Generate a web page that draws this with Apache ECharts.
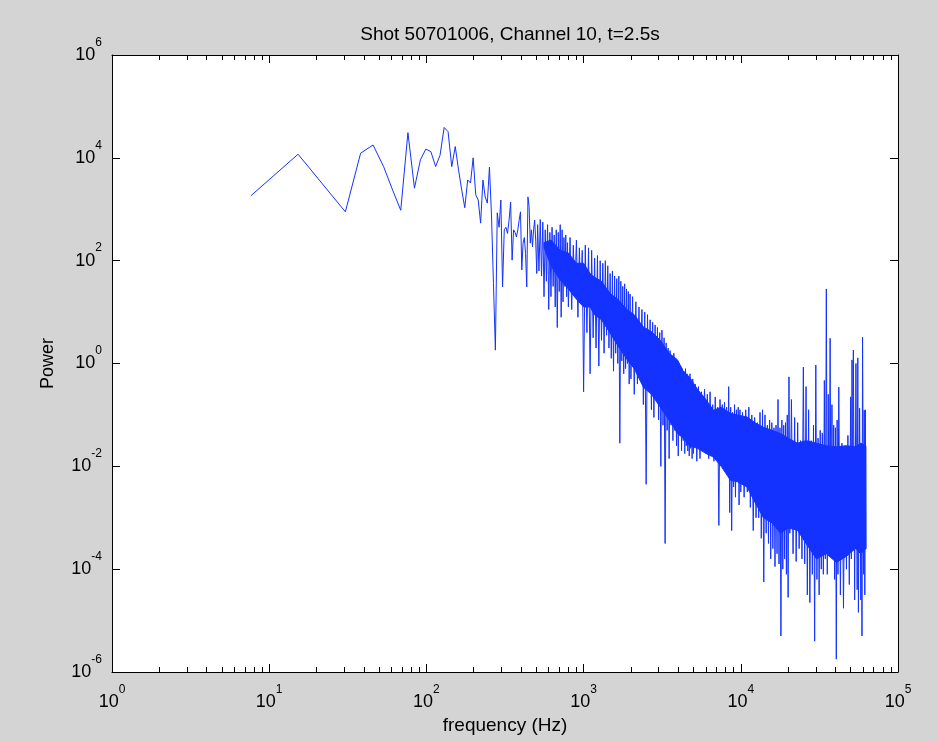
<!DOCTYPE html>
<html>
<head>
<meta charset="utf-8">
<script src="https://cdn.jsdelivr.net/npm/echarts@6/dist/echarts.min.js"></script>
<style>
  html, body { margin: 0; padding: 0; background: #d4d4d4; }
  #chart { width: 938px; height: 742px; }
</style>
</head>
<body>
<div id="chart"></div>
<script>
// ---- Data (frequency in Hz, power given as log10 exponent) ----
const titleText = 'Shot 50701006, Channel 10, t=2.5s';
const xAxisName = 'frequency (Hz)';
const yAxisName = 'Power';
const xTickExponents = [0, 1, 2, 3, 4, 5];
const yTickExponents = [-6, -4, -2, 0, 2, 4, 6];

// individual FFT bins in the low-frequency part
const binFreqHz = [7.63, 15.26, 30.52, 38.15, 45.78, 53.41, 61.04, 68.67, 76.3, 83.93,
  91.56, 99.19, 106.82, 114.45, 122.08, 129.71, 137.34, 144.97, 152.6, 160.23,
  167.86, 175.49, 183.12, 190.75, 198.38, 206.01, 213.64, 221.27, 228.9, 236.53,
  244.16, 251.79, 259.42, 267.05, 274.68, 282.31, 289.94, 297.57, 305.2, 312.83,
  320.46, 328.09, 335.72, 343.35, 350.98, 358.61, 366.24, 373.87, 381.5, 389.13,
  396.76, 404.39, 412.02, 419.65, 427.28, 434.91, 442.54, 450.17, 457.8, 465.43,
  473.06, 480.69, 488.32, 495.95, 503.58];
const binPowerLog10 = [3.26, 4.07, 2.95, 4.09, 4.25, 3.83, 3.37, 2.98, 4.49, 3.41,
  3.96, 4.17, 4.12, 3.83, 4.05, 4.59, 4.51, 3.83, 4.22, 3.76,
  3.37, 3.03, 3.57, 3.51, 4.0, 3.28, 3.18, 2.73, 3.57, 3.24,
  3.12, 3.82, 2.89, 1.56, 0.26, 2.93, 2.65, 3.18, 1.49, 2.6,
  2.65, 2.53, 2.79, 3.14, 2.01, 2.6, 2.55, 2.46, 2.6, 2.79,
  2.95, 1.82, 2.34, 2.45, 2.14, 1.49, 3.24, 3.05, 2.34, 2.6,
  2.27, 2.6, 2.79, 2.38, 1.75];

// dense noisy band: alternating upper / lower excursions
const bandFreqHz = [
  510, 520, 530, 540, 550, 560, 570, 580, 590, 600,
  610, 620, 630, 640, 650, 660, 670, 680, 690, 700,
  710, 720, 730, 740, 750, 760, 770, 780, 790, 800,
  820, 840, 860, 880, 900, 920, 940, 960, 980, 1000,
  1025, 1050, 1075, 1100, 1125, 1150, 1175, 1200, 1225, 1250,
  1275, 1300, 1325, 1350, 1375, 1400, 1425, 1450, 1475, 1500,
  1525, 1550, 1575, 1600, 1625, 1650, 1675, 1700, 1725, 1750,
  1775, 1800, 1825, 1850, 1875, 1900, 1925, 1950, 1975, 2000,
  2050, 2100, 2150, 2200, 2250, 2300, 2350, 2400, 2450, 2500,
  2550, 2600, 2650, 2700, 2750, 2800, 2850, 2900, 2950, 3000,
  3050, 3100, 3150, 3200, 3250, 3300, 3350, 3400, 3450, 3500,
  3550, 3600, 3650, 3700, 3750, 3800, 3850, 3900, 3950, 4000,
  4050, 4100, 4150, 4200, 4250, 4300, 4350, 4400, 4450, 4500,
  4550, 4600, 4650, 4700, 4750, 4800, 4850, 4900, 4950, 5000,
  5125, 5250, 5375, 5500, 5625, 5750, 5875, 6000, 6125, 6250,
  6375, 6500, 6625, 6750, 6875, 7000, 7125, 7250, 7375, 7500,
  7625, 7750, 7875, 8000, 8125, 8250, 8375, 8500, 8625, 8750,
  8875, 9000, 9125, 9250, 9375, 9500, 9625, 9750, 9875, 10000,
  10250, 10500, 10750, 11000, 11250, 11500, 11750, 12000, 12250, 12500,
  12750, 13000, 13250, 13500, 13750, 14000, 14250, 14500, 14750, 15000,
  15250, 15500, 15750, 16000, 16250, 16500, 16750, 17000, 17250, 17500,
  17750, 18000, 18250, 18500, 18750, 19000, 19250, 19500, 19750, 20000,
  20250, 20500, 21000, 21500, 22000, 22500, 23000, 23500, 24000, 24500,
  25000, 25500, 26000, 26500, 27000, 27500, 28000, 28500, 29000, 29500,
  30000, 30500, 31000, 31500, 32000, 32500, 33000, 33500, 34000, 34500,
  35000, 35500, 36000, 36500, 37000, 37500, 38000, 38500, 39000, 39500,
  40000, 40500, 41000, 41500, 42000, 43000, 44000, 45000, 46000, 47000,
  48000, 49000, 50000, 50500, 51000, 51500, 52000, 53000, 54000, 55000,
  55500, 56000, 57000, 58000, 58500, 59000, 59500, 60500, 61000, 61500,
  62000, 62500];
const bandPowerLog10 = [
  2.7, 1.8, 2.8, 1.7, 2.75, 1.3, 2.6, 1.6, 2.7, 1.05,
  2.55, 1.3, 2.65, 1.5, 2.5, 1.1, 2.6, 0.7, 2.55, 1.4,
  2.7, 0.9, 2.6, 1.2, 2.45, 1.5, 2.5, 1.3, 2.35, 1.1,
  2.45, 1.05, 2.3, 1.4, 2.4, 0.9, 2.25, 1.2, 2.2, -0.55,
  2.3, 0.6, 2.25, -0.2, 2.2, 0.5, 2.05, 0.3, 2.1, -0.05,
  2.0, 0.45, 1.95, 0.2, 2.0, 0.55, 1.9, 0.3, 1.75, 0.1,
  1.8, -0.15, 1.7, 0.2, 1.65, 0.0, 1.7, -1.55, 1.6, 0.05,
  1.5, -0.2, 1.55, -0.1, 1.45, 0.0, 1.4, -0.4, 1.35, -0.3,
  1.3, -0.6, 1.2, -0.4, 1.1, -0.2, 1.05, -0.8, 1.0, -2.35,
  0.95, -0.5, 0.85, -0.9, 0.8, -1.05, 0.75, -0.7, 0.7, -1.1,
  0.6, -2.0, 0.65, -1.2, 0.5, -3.5, 0.4, -1.3, 0.3, -1.85,
  0.25, -1.2, 0.15, -1.5, 0.2, -1.3, 0.1, -1.6, 0.05, -1.8,
  0.0, -1.4, -0.05, -1.7, -0.1, -1.5, -0.15, -1.75, -0.1, -1.6,
  -0.2, -1.7, -0.25, -1.8, -0.2, -1.65, -0.35, -1.85, -0.3, -1.75,
  -0.4, -1.9, -0.45, -1.85, -0.55, -1.6, -0.5, -1.4, -0.6, -1.85,
  -0.55, -1.75, -0.8, -1.9, -0.65, -1.8, -0.85, -3.15, -0.7, -1.7,
  -0.8, -1.9, -0.75, -1.65, -0.85, -2.1, -0.45, -2.9, -0.85, -3.25,
  -0.95, -2.4, -0.8, -2.6, -0.9, -2.2, -0.85, -2.75, -0.9, -2.5,
  -0.95, -2.6, -0.9, -2.5, -0.85, -2.8, -1.0, -3.25, -1.05, -3.0,
  -1.15, -3.0, -0.95, -3.4, -0.9, -4.25, -1.0, -3.3, -1.2, -3.5,
  -1.1, -3.8, -1.15, -3.6, -1.25, -3.95, -1.2, -3.7, -0.7, -3.9,
  -1.25, -5.3, -1.1, -4.0, -1.2, -3.8, -1.15, -4.1, -1.0, -4.55,
  -0.26, -3.3, -0.7, -3.7, -1.05, -3.85, -1.15, -3.6, -1.5, -3.8,
  -0.07, -3.9, -0.45, -4.5, -0.9, -4.65, -1.5, -4.1, -1.2, -5.4,
  -0.03, -4.2, -1.45, -4.5, -1.3, -4.0, -1.35, -4.1, -0.33, -3.8,
  1.45, -4.1, -0.6, -3.6, 0.49, -3.7, -0.8, -3.75, -1.2, -4.2,
  -1.25, -5.75, -1.1, -4.1, -0.46, -4.5, -1.55, -4.76, -1.6, -4.0,
  -1.4, -4.3, -0.65, -3.8, 0.07, -3.14, 0.26, -4.6, 0.0, -4.4,
  0.11, -4.84, -0.87, -4.6, -1.55, -5.3, 0.51, -4.1, -0.91, -4.5,
  -0.9, -3.6];

// solid (fully inked) core of the noisy band: upper and lower edge
const coreFreqHz = [560, 620, 711, 800, 900, 1000, 1100, 1170, 1300, 1475,
  1650, 1900, 2100, 2400, 2700, 3078, 3500, 3960, 4300, 4700,
  5300, 6000, 6700, 7500, 8590, 9500, 10950, 12300, 13930, 15800,
  17870, 20000, 22900, 26000, 30300, 35000, 40600, 47000, 53600, 58000,
  62500];
const coreUpperLog10 = [2.35, 2.4, 2.2, 2.15, 1.95, 1.95, 1.75, 1.68, 1.6, 1.36,
  1.25, 1.04, 0.95, 0.71, 0.62, 0.45, 0.2, 0.07, -0.15, -0.26,
  -0.5, -0.7, -0.91, -0.85, -0.97, -1.0, -1.04, -1.15, -1.24, -1.3,
  -1.36, -1.45, -1.55, -1.5, -1.55, -1.6, -1.62, -1.6, -1.62, -1.55,
  -1.6];
const coreLowerLog10 = [2.25, 1.9, 1.62, 1.45, 1.25, 1.1, 1.1, 0.95, 0.85, 0.59,
  0.35, 0.07, -0.1, -0.46, -0.6, -0.85, -1.1, -1.36, -1.45, -1.6,
  -1.65, -1.75, -1.82, -2.0, -2.27, -2.3, -2.4, -2.7, -3.0, -3.1,
  -3.3, -3.2, -3.24, -3.5, -3.8, -3.7, -3.87, -3.75, -3.6, -3.7,
  -3.6];

// ---- build series data (power = 10^exponent) ----
const freqHz = binFreqHz.concat(bandFreqHz);
const powerLog10 = binPowerLog10.concat(bandPowerLog10);
const seriesData = freqHz.map((f, i) => [f, Math.pow(10, powerLog10[i])]);
const coreData = coreFreqHz.map((f, i) => [f, Math.pow(10, coreUpperLog10[i]), Math.pow(10, coreLowerLog10[i])]);

// minor tick positions on the frequency axis (log10 space), 2..9 within each decade
const minorMultipliers = [2, 3, 4, 5, 6, 7, 8, 9];
const xMinorTickLog = [];
for (let k = xTickExponents[0]; k < xTickExponents[xTickExponents.length - 1]; k++) {
  minorMultipliers.forEach(m => xMinorTickLog.push(k + Math.log10(m)));
}

const LINE_COLOR = '#1432ff';
const FONT = '"Liberation Sans", Arial, Helvetica, sans-serif';
const BASE = 18, EXP = 12;
const rich = {
  b: { fontSize: BASE, fontFamily: FONT, color: '#000' },
  e: { fontSize: EXP, fontFamily: FONT, color: '#000', padding: [0, 0, 25, 0] }
};
const pow10Label = e => '{b|10}{e|' + e + '}';

const axisLineStyle = { show: true, onZero: false, lineStyle: { color: '#000', width: 1 } };
const GRID = { left: 112, top: 55, width: 786, height: 617 };

const chart = echarts.init(document.getElementById('chart'), null, { renderer: 'canvas' });
chart.setOption({
  backgroundColor: '#d4d4d4',
  animation: false,
  title: {
    text: titleText,
    left: GRID.left + GRID.width / 2,
    top: 20,
    textAlign: 'center',
    textStyle: { fontSize: 19, fontWeight: 'normal', color: '#000', fontFamily: FONT }
  },
  grid: Object.assign({ show: true, backgroundColor: '#ffffff', borderWidth: 0 }, GRID),
  xAxis: [
    { // main log frequency axis (bottom)
      type: 'log', logBase: 10, min: Math.pow(10, xTickExponents[0]), max: Math.pow(10, xTickExponents[xTickExponents.length - 1]),
      splitNumber: 5, position: 'bottom',
      name: xAxisName, nameLocation: 'middle', nameGap: 41,
      nameTextStyle: { fontSize: 19, fontFamily: FONT, color: '#000' },
      axisLine: axisLineStyle,
      axisTick: { show: true, inside: true, length: 8, lineStyle: { color: '#000' } },
      axisLabel: { margin: 12, formatter: v => pow10Label(Math.round(Math.log10(v))), rich: rich },
      splitLine: { show: false }
    },
    { // top box side
      type: 'log', logBase: 10, min: Math.pow(10, xTickExponents[0]), max: Math.pow(10, xTickExponents[xTickExponents.length - 1]),
      splitNumber: 5, position: 'top',
      axisLine: axisLineStyle,
      axisTick: { show: true, inside: true, length: 8, lineStyle: { color: '#000' } },
      axisLabel: { show: false }, splitLine: { show: false }
    },
    { // minor ticks bottom
      type: 'value', min: xTickExponents[0], max: xTickExponents[xTickExponents.length - 1], position: 'bottom',
      axisLine: { show: false, onZero: false },
      axisTick: { show: true, inside: true, length: 5, customValues: xMinorTickLog, lineStyle: { color: '#000' } },
      axisLabel: { show: false }, splitLine: { show: false }
    },
    { // minor ticks top
      type: 'value', min: xTickExponents[0], max: xTickExponents[xTickExponents.length - 1], position: 'top',
      axisLine: { show: false, onZero: false },
      axisTick: { show: true, inside: true, length: 5, customValues: xMinorTickLog, lineStyle: { color: '#000' } },
      axisLabel: { show: false }, splitLine: { show: false }
    }
  ],
  yAxis: [
    { // log power axis used by the data
      type: 'log', logBase: 10, min: Math.pow(10, yTickExponents[0]), max: Math.pow(10, yTickExponents[yTickExponents.length - 1]),
      position: 'left',
      axisLine: { show: false, onZero: false }, axisTick: { show: false }, axisLabel: { show: false }, splitLine: { show: false }
    },
    { // left ticks + labels (exponent space)
      type: 'value', min: yTickExponents[0], max: yTickExponents[yTickExponents.length - 1], interval: 2, position: 'left',
      name: yAxisName, nameLocation: 'middle', nameGap: 55,
      nameTextStyle: { fontSize: BASE, fontFamily: FONT, color: '#000' },
      axisLine: axisLineStyle,
      axisTick: { show: true, inside: true, length: 8, lineStyle: { color: '#000' } },
      axisLabel: { margin: 10, formatter: v => pow10Label(v), rich: rich },
      splitLine: { show: false }
    },
    { // right box side
      type: 'value', min: yTickExponents[0], max: yTickExponents[yTickExponents.length - 1], interval: 2, position: 'right',
      axisLine: axisLineStyle,
      axisTick: { show: true, inside: true, length: 8, lineStyle: { color: '#000' } },
      axisLabel: { show: false }, splitLine: { show: false }
    }
  ],
  series: [
    { // solid core of the band, drawn as a polygon through the axis scales
      type: 'custom',
      xAxisIndex: 0,
      yAxisIndex: 0,
      data: coreData,
      silent: true,
      encode: { x: 0, y: [1, 2] },
      renderItem: function (params, api) {
        if (params.dataIndex !== 0) return null;
        const pts = [];
        for (let i = 0; i < coreData.length; i++) pts.push(api.coord([coreData[i][0], coreData[i][1]]));
        for (let i = coreData.length - 1; i >= 0; i--) pts.push(api.coord([coreData[i][0], coreData[i][2]]));
        return { type: 'polygon', shape: { points: pts }, style: { fill: LINE_COLOR, stroke: LINE_COLOR, lineWidth: 1 } };
      }
    },
    {
      type: 'line',
      xAxisIndex: 0,
      yAxisIndex: 0,
      data: seriesData,
      showSymbol: false,
      symbol: 'none',
      lineStyle: { color: LINE_COLOR, width: 1 },
      itemStyle: { color: LINE_COLOR },
      silent: true
    }
  ]
});
</script>
</body>
</html>
